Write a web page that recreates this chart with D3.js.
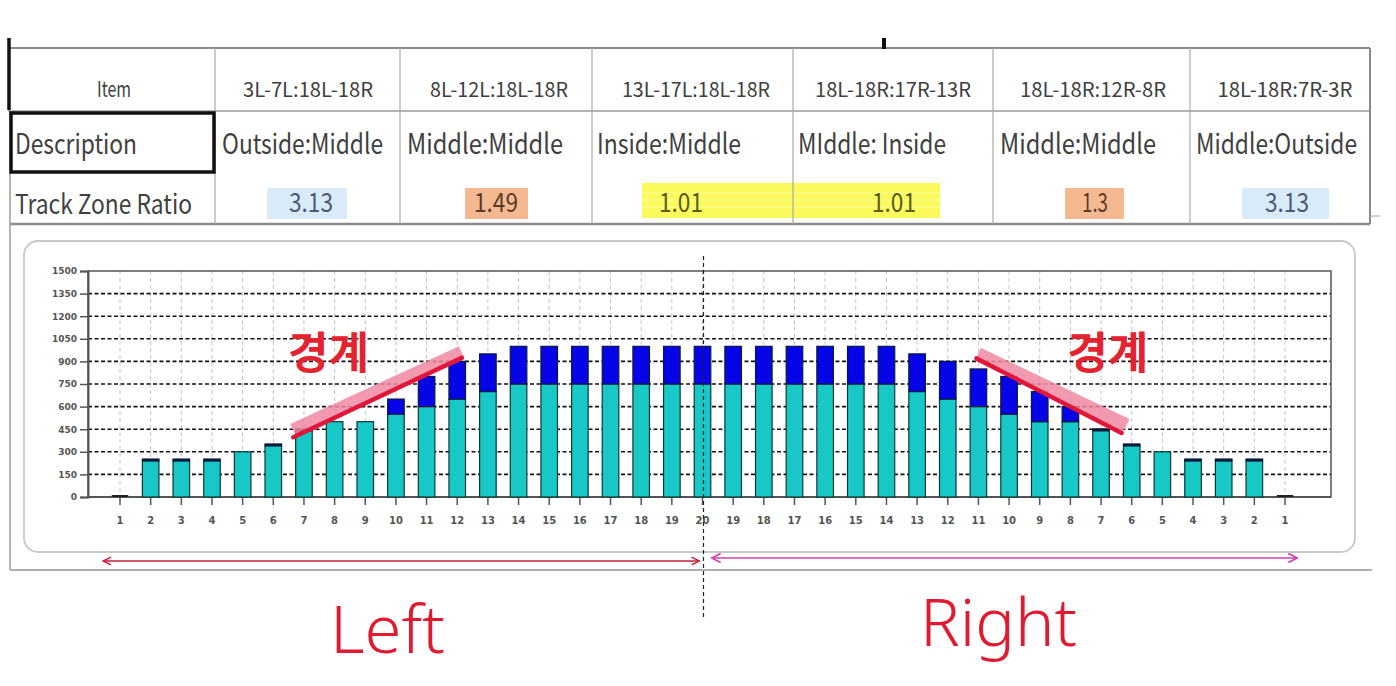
<!DOCTYPE html>
<html>
<head>
<meta charset="utf-8">
<script src="https://cdn.jsdelivr.net/npm/d3@7"></script>
<style>
  html, body { margin: 0; padding: 0; background: #fff; }
  svg { display: block; }
</style>
</head>
<body>
<svg id="chart" width="1396" height="686"></svg>
<script>
// ---------------- DATA ----------------
const categories = ["1","2","3","4","5","6","7","8","9","10","11","12","13","14","15","16","17","18","19","20",
                    "19","18","17","16","15","14","13","12","11","10","9","8","7","6","5","4","3","2","1"];
const baseValues = [0,240,240,240,300,340,440,500,500,550,600,650,700,750,750,750,750,750,750,750,
                    750,750,750,750,750,750,700,650,600,550,500,500,440,340,300,240,240,240,0];
const topValues  = [0,12,12,12,0,12,12,0,0,100,200,250,250,250,250,250,250,250,250,250,
                    250,250,250,250,250,250,250,250,250,250,200,100,12,12,0,12,12,12,0];
const yTicks = [0,150,300,450,600,750,900,1050,1200,1350,1500];

const tableRowLabels = ["Item","Description","Track Zone Ratio"];
const tableItems = ["3L-7L:18L-18R","8L-12L:18L-18R","13L-17L:18L-18R","18L-18R:17R-13R","18L-18R:12R-8R","18L-18R:7R-3R"];
const tableDescriptions = ["Outside:Middle","Middle:Middle","Inside:Middle","MIddle: Inside","Middle:Middle","Middle:Outside"];
const tableRatios = ["3.13","1.49","1.01","1.01","1.3","3.13"];
const ratioColors = ["#d9eaf8","#f5b991","#fafa5c","#fafa5c","#f5b991","#d9eaf8"];

const boundaryLabel = "경계";
const sideLabels = ["Left","Right"];

// ---------------- SETUP ----------------
const svg = d3.select("#chart");

// ---------- TABLE ----------
const colEdges = [8,215,400,592,793,993,1190,1370];
const rowEdges = [48,111,173,224];
const tbl = svg.append("g");

const ratioBg = [
  {x0:267,x1:347,y0:188,y1:219},
  {x0:465,x1:528,y0:188,y1:219},
  {x0:642,x1:791,y0:183,y1:218},
  {x0:791,x1:940,y0:183,y1:218},
  {x0:1065,x1:1124,y0:188,y1:219},
  {x0:1242,x1:1329,y0:188,y1:219}
];
tbl.selectAll("rect.bg").data(ratioBg).join("rect")
  .attr("x", d=>d.x0).attr("y", d=>d.y0)
  .attr("width", d=>d.x1-d.x0).attr("height", d=>d.y1-d.y0)
  .attr("fill", (d,i)=>ratioColors[i]);
[193,200,207].forEach(y=>{
  tbl.append("line").attr("x1",642).attr("x2",940).attr("y1",y).attr("y2",y)
    .attr("stroke","#ffff9a").attr("stroke-width",1.5).attr("opacity",0.8);
});

tbl.append("line").attr("x1",8).attr("x2",1370).attr("y1",rowEdges[0]).attr("y2",rowEdges[0]).attr("stroke","#8a8a8a").attr("stroke-width",2);
tbl.append("line").attr("x1",8).attr("x2",1370).attr("y1",rowEdges[1]).attr("y2",rowEdges[1]).attr("stroke","#9a9a9a").attr("stroke-width",1.5);
tbl.append("line").attr("x1",10).attr("x2",1370).attr("y1",rowEdges[3]).attr("y2",rowEdges[3]).attr("stroke","#8a8a8a").attr("stroke-width",2.5);
colEdges.slice(1,-1).forEach(x=>{
  tbl.append("line").attr("x1",x).attr("x2",x).attr("y1",rowEdges[0]).attr("y2",rowEdges[3]).attr("stroke","#a8a8a8").attr("stroke-width",1.2);
});
tbl.append("line").attr("x1",1370).attr("x2",1370).attr("y1",rowEdges[0]).attr("y2",rowEdges[3]).attr("stroke","#8a8a8a").attr("stroke-width",2);
tbl.append("line").attr("x1",1370).attr("x2",1380).attr("y1",216).attr("y2",216).attr("stroke","#aaa").attr("stroke-width",1);
tbl.append("line").attr("x1",10).attr("x2",10).attr("y1",rowEdges[1]).attr("y2",570).attr("stroke","#9a9a9a").attr("stroke-width",1.5);
tbl.append("line").attr("x1",9).attr("x2",9).attr("y1",38).attr("y2",110).attr("stroke","#111").attr("stroke-width",3.5);
tbl.append("line").attr("x1",884).attr("x2",884).attr("y1",38).attr("y2",49).attr("stroke","#111").attr("stroke-width",4);
tbl.append("rect").attr("x",11).attr("y",113).attr("width",203).attr("height",59)
  .attr("fill","none").attr("stroke","#111").attr("stroke-width",3.5);

const tfont = "'Noto Sans CJK KR', 'Noto Sans', sans-serif";
const txtCol = "#404040";
const headerWidths = [34,130,138,148,156,146,135];
const headerCenters = [114,308,499,696,893,1093,1285];
[tableRowLabels[0]].concat(tableItems).forEach((t,i)=>{
  tbl.append("text").attr("x",headerCenters[i]).attr("y",97)
    .attr("text-anchor","middle").attr("font-family",tfont).attr("font-size",i===0?22:20)
    .attr("fill",txtCol).attr("textLength",headerWidths[i]).attr("lengthAdjust","spacingAndGlyphs")
    .text(t);
});
const descStarts = [15,222,407,597,798,1000,1196];
const descWidths = [122,161,156,144,148,156,161];
[tableRowLabels[1]].concat(tableDescriptions).forEach((t,i)=>{
  tbl.append("text").attr("x",descStarts[i]).attr("y",154)
    .attr("font-family",tfont).attr("font-size",28)
    .attr("fill",txtCol).attr("textLength",descWidths[i]).attr("lengthAdjust","spacingAndGlyphs")
    .text(t);
});
tbl.append("text").attr("x",15).attr("y",214)
  .attr("font-family",tfont).attr("font-size",27)
  .attr("fill",txtCol).attr("textLength",177).attr("lengthAdjust","spacingAndGlyphs")
  .text(tableRowLabels[2]);
const ratioCenters = [311,496,681,894,1095,1287];
const ratioCols = ["#4a5a78","#5a3a2a","#5a5a10","#5a5a10","#5a3a2a","#4a5a78"];
tableRatios.forEach((t,i)=>{
  tbl.append("text").attr("x",ratioCenters[i]).attr("y",212)
    .attr("text-anchor","middle").attr("font-family",tfont).attr("font-size",26)
    .attr("fill",ratioCols[i]).attr("textLength", t.length===3 ? 26 : 44).attr("lengthAdjust","spacingAndGlyphs")
    .text(t);
});

// ---------- CHART FRAME ----------
svg.append("line").attr("x1",10).attr("x2",1372).attr("y1",570).attr("y2",570).attr("stroke","#b0b0b0").attr("stroke-width",2);
svg.append("rect").attr("x",24).attr("y",241).attr("width",1331).attr("height",311).attr("rx",14)
  .attr("fill","#fff").attr("stroke","#c8c8c8").attr("stroke-width",1.8);

// ---------- SCALES ----------
const plot = {left:88, right:1331, top:271, bottom:497};
const step = (1285-120)/38;
const x = d3.scaleBand().domain(d3.range(categories.length))
  .range([120-step/2, 1285+step/2]).paddingInner(0.46).paddingOuter(0.23);
const xc = i => x(i) + x.bandwidth()/2;
const xLin = d3.scaleLinear().domain([0, categories.length-1]).range([xc(0), xc(categories.length-1)]);
const y = d3.scaleLinear().domain([0,1500]).range([plot.bottom, plot.top]);

const g = svg.append("g");

g.selectAll("line.vg").data(d3.range(categories.length)).join("line")
  .attr("x1", d=>xc(d)).attr("x2", d=>xc(d))
  .attr("y1", plot.top).attr("y2", plot.bottom)
  .attr("stroke","#c4c4c4").attr("stroke-width",1).attr("stroke-dasharray","4,3");

g.selectAll("line.hg").data(yTicks.filter(v=>v>0 && v<1500)).join("line")
  .attr("x1", plot.left).attr("x2", plot.right)
  .attr("y1", d=>y(d)).attr("y2", d=>y(d))
  .attr("stroke","#111").attr("stroke-width",1.6).attr("stroke-dasharray","4,2.5");

g.append("rect").attr("x",plot.left).attr("y",plot.top).attr("width",plot.right-plot.left).attr("height",plot.bottom-plot.top)
  .attr("fill","none").attr("stroke","#555").attr("stroke-width",1.5);

const yAxis = d3.axisLeft(y).tickValues(yTicks).tickFormat(d3.format("d")).tickSize(8).tickPadding(3);
const ya = g.append("g").attr("transform",`translate(${plot.left},0)`).call(yAxis);
ya.select(".domain").attr("stroke","#555").attr("stroke-width",2);
ya.selectAll(".tick line").attr("stroke","#555").attr("stroke-width",1.5);
ya.selectAll(".tick text").attr("font-family","'DejaVu Sans', sans-serif").attr("font-weight","bold")
  .attr("font-size",9).attr("fill","#555");

const xAxis = d3.axisBottom(x).tickFormat(i=>categories[i]).tickSize(8).tickPadding(12);
const xa = g.append("g").attr("transform",`translate(0,${plot.bottom})`).call(xAxis);
xa.select(".domain").remove();
xa.selectAll(".tick line").attr("stroke","#555").attr("stroke-width",1.5);
xa.selectAll(".tick text").attr("font-family","'DejaVu Sans', sans-serif").attr("font-weight","bold")
  .attr("font-size",10).attr("fill","#555");
g.append("line").attr("x1",plot.left).attr("x2",plot.right).attr("y1",plot.bottom).attr("y2",plot.bottom)
  .attr("stroke","#555").attr("stroke-width",2);

// bars
const bars = g.append("g");
bars.selectAll("rect.base").data(baseValues).join("rect")
  .attr("x",(d,i)=>x(i)).attr("width",x.bandwidth())
  .attr("y",d=>y(d)).attr("height",d=>y(0)-y(d))
  .attr("fill","#17c8c6").attr("stroke","#0b3838").attr("stroke-width",1.2)
  .attr("display",d=>d>0?null:"none");
// zero-value bars drawn as a flat dark line on the baseline
bars.selectAll("line.zero").data(baseValues.map((v,i)=>({v,i})).filter(d=>d.v===0)).join("line")
  .attr("x1",d=>x(d.i)).attr("x2",d=>x(d.i)+x.bandwidth())
  .attr("y1",y(0)-1).attr("y2",y(0)-1).attr("stroke","#222").attr("stroke-width",2);
bars.selectAll("rect.top").data(topValues).join("rect")
  .attr("x",(d,i)=>x(i)).attr("width",x.bandwidth())
  .attr("y",(d,i)=>y(baseValues[i]+d)).attr("height",d=>y(0)-y(d))
  .attr("fill",d=>d<50?"#0a1040":"#0505e8").attr("stroke","#0a1a3a").attr("stroke-width",1.2)
  .attr("display",d=>d>0?null:"none");

const midIdx = 19;
g.append("line").attr("x1",xc(midIdx)+1).attr("x2",xc(midIdx)+1).attr("y1",256).attr("y2",620)
  .attr("stroke","#222").attr("stroke-width",1.2).attr("stroke-dasharray","4,3");

const pinkL = [[5.65,443],[11.15,958]], redL = [[5.65,397],[11.15,924]];
const pinkR = [[27.98,948],[32.83,476]], redR = [[27.94,920],[32.67,425]];
const ln = d3.line().x(d=>xLin(d[0])).y(d=>y(d[1]));
[pinkL,pinkR].forEach(p=>{
  g.append("path").attr("d",ln(p)).attr("stroke","#f08aa2").attr("stroke-width",14)
    .attr("opacity",0.85).attr("fill","none");
});
[redL,redR].forEach(p=>{
  g.append("path").attr("d",ln(p)).attr("stroke","#e0163a").attr("stroke-width",4.5)
    .attr("fill","none").attr("stroke-linecap","round");
});
g.append("text").attr("x",xLin(5.48)).attr("y",y(850)).attr("font-family","'Noto Sans CJK KR', sans-serif")
  .attr("font-weight","bold").attr("font-size",44).attr("fill","#e32330").text(boundaryLabel);
g.append("text").attr("x",xLin(30.9)).attr("y",y(850)).attr("font-family","'Noto Sans CJK KR', sans-serif")
  .attr("font-weight","bold").attr("font-size",44).attr("fill","#e32330").text(boundaryLabel);

const defs = svg.append("defs");
[["aL","#c8203c"],["aR","#d040a8"]].forEach(([id,c])=>{
  const m = defs.append("marker").attr("id",id).attr("viewBox","0 0 10 10").attr("refX",9).attr("refY",5)
    .attr("markerWidth",7).attr("markerHeight",7).attr("orient","auto-start-reverse");
  m.append("path").attr("d","M1,1 L9,5 L1,9").attr("fill","none").attr("stroke",c).attr("stroke-width",1.5);
});
svg.append("line").attr("x1",xLin(-0.55)).attr("x2",xLin(18.9)).attr("y1",561).attr("y2",561)
  .attr("stroke","#c8203c").attr("stroke-width",1.4).attr("marker-start","url(#aL)").attr("marker-end","url(#aL)");
svg.append("line").attr("x1",xLin(19.3)).attr("x2",xLin(38.4)).attr("y1",558).attr("y2",558)
  .attr("stroke","#d040a8").attr("stroke-width",1.6).attr("marker-start","url(#aR)").attr("marker-end","url(#aR)");

svg.append("text").attr("x",330).attr("y",653).attr("font-family","'Noto Sans', sans-serif").attr("font-weight",300)
  .attr("font-size",66).attr("fill","#e01a30").attr("textLength",115).attr("lengthAdjust","spacingAndGlyphs").text(sideLabels[0]);
svg.append("text").attr("x",920).attr("y",646).attr("font-family","'Noto Sans', sans-serif").attr("font-weight",300)
  .attr("font-size",66).attr("fill","#e01a30").attr("textLength",157).attr("lengthAdjust","spacingAndGlyphs").text(sideLabels[1]);
</script>
</body>
</html>
